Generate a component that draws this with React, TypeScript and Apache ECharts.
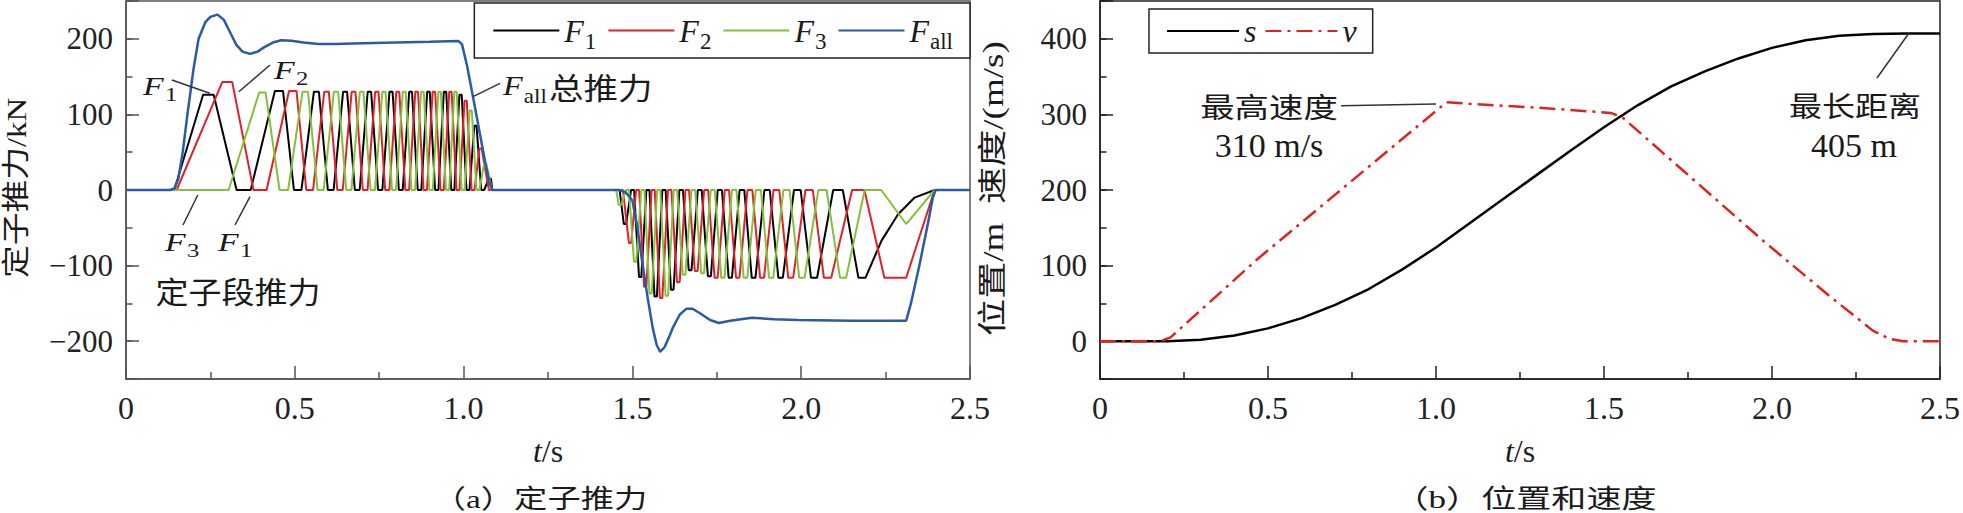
import React, { useEffect, useRef } from "react";
import * as echarts from "echarts";

const SERIF = "'Times New Roman', 'Liberation Serif', 'Noto Sans CJK SC', serif";
const CJK = "'Noto Sans CJK SC', 'Noto Sans', sans-serif";

// axes
const X_MIN = 0;
const X_MAX = 2.5;
const X_STEP = 0.5;
const F_MIN = -250;
const F_MAX = 250;
const S_MIN = -50;
const S_MAX = 450;
const MINOR_STEP = 50;

const NAMES_A = ["F1", "F2", "F3", "Fall"];
const NAMES_B = ["s", "v"];
const COLORS_A = ["#000000", "#e0202a", "#84c13a", "#2a5aa8"];
const COLOR_S = "#000000";
const COLOR_V = "#e3211c";

// total thrust Fall [t (s), F (kN)]
const FALL: number[][] = [
  [0, 0], [0.13, 0], [0.143, 2], [0.155, 15], [0.168, 50], [0.182, 100], [0.2, 160], [0.215, 200],
  [0.235, 222], [0.25, 229], [0.271, 232], [0.29, 225], [0.31, 207], [0.327, 192], [0.345, 183],
  [0.367, 180], [0.39, 183], [0.41, 189], [0.435, 195], [0.46, 198], [0.49, 197.5], [0.526, 195],
  [0.57, 193], [0.62, 193], [0.7, 194], [0.8, 195], [0.9, 196], [0.985, 197], [0.995, 193],
  [1.01, 165], [1.03, 118], [1.05, 70], [1.066, 32], [1.077, 9], [1.085, 0], [1.461, 0],
  [1.48, -3], [1.5, -14], [1.515, -50], [1.53, -98], [1.545, -142], [1.56, -182], [1.572, -205],
  [1.582, -214], [1.595, -208], [1.61, -193], [1.62, -182], [1.64, -165], [1.66, -157], [1.678, -157],
  [1.7, -163], [1.73, -172], [1.756, -176], [1.79, -173], [1.854, -169], [1.92, -171], [1.992, -172],
  [2.15, -173], [2.311, -173], [2.325, -150], [2.35, -100], [2.375, -45], [2.39, -10], [2.398, 0], [2.5, 0],
];

// stator-segment thrust: peak times (s) and peak values (kN), acceleration part
const F1_ACC_START = 0.143;
const F1_ACC_PEAKS = [0.244, 0.453, 0.564, 0.649, 0.721, 0.785, 0.843, 0.896, 0.945, 0.991, 1.035, 1.078];
const F1_ACC_AMPS = [126, 131, 130, 130, 130, 130, 130, 130, 130, 126, 85, 15];
const F1_ACC_TAIL = [[1.085, 0]];
const F2_ACC_START = 0.15;
const F2_ACC_PEAKS = [0.3, 0.494, 0.594, 0.674, 0.743, 0.805, 0.861, 0.912, 0.961, 1.006, 1.05];
const F2_ACC_AMPS = [143, 131, 130, 130, 130, 130, 130, 130, 130, 118, 55];
const F2_ACC_TAIL = [[1.075, 0]];
const F3_ACC_START = 0.304;
const F3_ACC_PEAKS = [0.404, 0.531, 0.622, 0.698, 0.764, 0.824, 0.878, 0.929, 0.976, 1.021, 1.064];
const F3_ACC_AMPS = [129, 130, 130, 130, 130, 130, 130, 130, 130, 105, 35];
const F3_ACC_TAIL = [[1.084, 0]];

// braking part: trough times (s) and trough values (kN)
const F1_DEC_START = 1.462;
const F1_DEC_PEAKS = [1.478, 1.523, 1.569, 1.618, 1.671, 1.728, 1.79, 1.859, 1.939, 2.038, 2.18];
const F1_DEC_AMPS = [-45, -115, -141, -132, -106, -114, -116, -116, -116, -116, -116];
const F1_DEC_TAIL = [[2.238, -67], [2.287, -32], [2.336, -10], [2.395, 0]];
const F2_DEC_START = 1.472;
const F2_DEC_PEAKS = [1.493, 1.538, 1.585, 1.636, 1.689, 1.748, 1.812, 1.884, 1.969, 2.078, 2.26];
const F2_DEC_AMPS = [-70, -128, -143, -122, -107, -116, -116, -116, -116, -116, -116];
const F2_DEC_TAIL = [[2.311, -116], [2.395, 0]];
const F3_DEC_START = 1.452;
const F3_DEC_PEAKS = [1.463, 1.508, 1.554, 1.602, 1.653, 1.708, 1.768, 1.835, 1.911, 2.002, 2.124];
const F3_DEC_AMPS = [-20, -95, -137, -140, -112, -110, -116, -116, -116, -116, -116];
const F3_DEC_TAIL = [[2.188, 0], [2.237, 0], [2.311, -45], [2.395, 0]];

// position s (m) and speed v (m/s)
const S_POS: number[][] = [
  [0, 0], [0.2, 0], [0.3, 1.9], [0.4, 7.6], [0.5, 17], [0.6, 30.5], [0.7, 48], [0.8, 69], [0.9, 95],
  [1.0, 124], [1.1, 156], [1.2, 188], [1.3, 220], [1.4, 252], [1.5, 283], [1.6, 312], [1.7, 337],
  [1.8, 357], [1.9, 374], [2.0, 388], [2.1, 398], [2.2, 404], [2.3, 406.5], [2.4, 407], [2.5, 407],
];
const V_SPD: number[][] = [
  [0, 0], [0.18, 0], [0.21, 5], [0.467, 108], [1.031, 316], [1.1, 314], [1.3, 309], [1.52, 302],
  [1.555, 296], [1.976, 132], [2.176, 58], [2.3, 14], [2.35, 3], [2.39, 0], [2.5, 0],
];

// plateau-shaped phase wave through the read peak times
function phaseWave(start: number, peaks: number[], amps: number[], tail: number[][]): number[][] {
  const pts: number[][] = [[start, 0]];
  const n = peaks.length;
  for (let i = 0; i < n; i++) {
    const p = peaks[i];
    const tn = i < n - 1 ? peaks[i + 1] - p : p - peaks[i - 1];
    const tp = i > 0 ? p - peaks[i - 1] : tn;
    const h = (0.075 * (tp + tn)) / 2;
    pts.push([p - h, amps[i]], [p + h, amps[i]]);
    if (i < n - 1) {
      const m = (p + peaks[i + 1]) / 2;
      const hb = 0.1 * tn;
      pts.push([m - hb, 0], [m + hb, 0]);
    }
  }
  return pts.concat(tail);
}

const F1_DATA = [[0, 0], ...phaseWave(F1_ACC_START, F1_ACC_PEAKS, F1_ACC_AMPS, F1_ACC_TAIL),
  ...phaseWave(F1_DEC_START, F1_DEC_PEAKS, F1_DEC_AMPS, F1_DEC_TAIL), [2.5, 0]];
const F2_DATA = [[0, 0], ...phaseWave(F2_ACC_START, F2_ACC_PEAKS, F2_ACC_AMPS, F2_ACC_TAIL),
  ...phaseWave(F2_DEC_START, F2_DEC_PEAKS, F2_DEC_AMPS, F2_DEC_TAIL), [2.5, 0]];
const F3_DATA = [[0, 0], ...phaseWave(F3_ACC_START, F3_ACC_PEAKS, F3_ACC_AMPS, F3_ACC_TAIL),
  ...phaseWave(F3_DEC_START, F3_DEC_PEAKS, F3_DEC_AMPS, F3_DEC_TAIL), [2.5, 0]];

const TXT = "#1a1a1a";

const F_RICH = (size: number) => ({
  f: { fontFamily: SERIF, fontStyle: "italic", fontSize: size, fill: TXT, color: TXT },
  s: {
    fontFamily: SERIF,
    fontSize: Math.round(size * 0.72),
    fill: TXT,
    color: TXT,
    lineHeight: Math.round(size * 0.4),
    padding: [Math.round(size * 0.7), 2, 0, 1],
  },
  c: { fontFamily: CJK, fontSize: 30, fill: TXT, color: TXT },
  l: { fontFamily: SERIF, fontSize: size, fill: TXT, color: TXT },
  i: { fontFamily: SERIF, fontStyle: "italic", fontSize: size, fill: TXT, color: TXT },
});

function txt(x: number, y: number, text: string, o: any = {}) {
  const align = o.align || "center";
  return {
    type: "text",
    x,
    y,
    scaleX: o.scaleX || 1,
    rotation: o.rotation || 0,
    silent: true,
    z: 100,
    style: {
      text,
      fontSize: o.size || 28,
      fontFamily: o.family || SERIF,
      fill: TXT,
      align,
      verticalAlign: "middle",
      textAlign: align,
      textVerticalAlign: "middle",
      rich: o.rich,
    },
  };
}

function seg(x1: number, y1: number, x2: number, y2: number) {
  return {
    type: "line",
    silent: true,
    z: 100,
    shape: { x1, y1, x2, y2 },
    style: { stroke: "#333", lineWidth: 1.5 },
  };
}

function xAxisOf(gi: number, col: string) {
  return {
    type: "value",
    gridIndex: gi,
    min: X_MIN,
    max: X_MAX,
    interval: X_STEP,
    position: "bottom",
    axisLine: { onZero: false, lineStyle: { color: col, width: 1.5 } },
    axisTick: { inside: true, length: 13, lineStyle: { color: col, width: 1.5 } },
    minorTick: { show: true, splitNumber: 2, length: 7, lineStyle: { color: col, width: 1.5 } },
    splitLine: { show: false },
    minorSplitLine: { show: false },
    axisLabel: {
      margin: 13,
      fontFamily: SERIF,
      fontSize: 32,
      color: "#222",
      formatter: (v: number) => (v === 0 ? "0" : v.toFixed(1)),
    },
    name: "{i|t}/s",
    nameLocation: "middle",
    nameGap: 56,
    nameTextStyle: { fontFamily: SERIF, fontSize: 32, color: "#222", rich: F_RICH(32) },
  };
}

function yMinorOf(gi: number, min: number, max: number, col: string) {
  return {
    type: "value",
    gridIndex: gi,
    min,
    max,
    interval: MINOR_STEP,
    position: "left",
    axisLine: { show: true, onZero: false, lineStyle: { color: col, width: 1.5 } },
    axisTick: { inside: true, length: 6.5, lineStyle: { color: col, width: 1.5 } },
    axisLabel: { show: false },
    splitLine: { show: false },
  };
}

function yMajorOf(gi: number, min: number, max: number, col: string, size: number) {
  return {
    type: "value",
    gridIndex: gi,
    min,
    max,
    splitNumber: 5,
    position: "left",
    axisLine: { show: false, onZero: false },
    axisTick: { inside: true, length: 13, lineStyle: { color: col, width: 1.5 } },
    axisLabel: {
      margin: 13,
      fontFamily: SERIF,
      fontSize: size,
      color: "#222",
      formatter: (v: number) => (v === min || v === max ? "" : v < 0 ? "\u2212" + -v : String(v)),
    },
    splitLine: { show: false },
  };
}

const legendName = (n: string) => {
  if (n === "Fall") return "{f|F}{s|all}";
  if (n.length === 2) return "{f|F}{s|" + n[1] + "}";
  return "{i|" + n + "}";
};

function buildOption() {
  const lineSeries = (name: string, data: number[][], color: string, gi: number, yi: number, width: number, type: any = "solid") => ({
    name,
    type: "line",
    xAxisIndex: gi,
    yAxisIndex: yi,
    data,
    symbol: "none",
    showSymbol: false,
    color,
    lineStyle: { color, width, type },
    itemStyle: { color },
    emphasis: { disabled: true },
  });

  return {
    animation: false,
    backgroundColor: "#ffffff",
    grid: [
      { left: 126, top: 1, width: 844, height: 378, show: true, borderColor: "#555", borderWidth: 1.5 },
      { left: 1100, top: 1, width: 845, height: 378, show: true, borderColor: "#222", borderWidth: 1.5 },
    ],
    xAxis: [xAxisOf(0, "#555"), xAxisOf(1, "#222")],
    yAxis: [
      yMinorOf(0, F_MIN, F_MAX, "#555"),
      yMajorOf(0, F_MIN, F_MAX, "#555", 31),
      yMinorOf(1, S_MIN, S_MAX, "#222"),
      yMajorOf(1, S_MIN, S_MAX, "#222", 31),
    ],
    legend: [
      {
        data: NAMES_A,
        right: 993,
        top: 3,
        itemWidth: 66,
        itemHeight: 14,
        itemGap: 9,
        padding: [5, 15, 5, 18],
        borderColor: "#222",
        borderWidth: 1.5,
        borderRadius: 0,
        backgroundColor: "#fff",
        selectedMode: false,
        itemStyle: { opacity: 0 },
        formatter: legendName,
        textStyle: { fontFamily: SERIF, fontSize: 32, color: TXT, rich: F_RICH(32) },
      },
      {
        data: NAMES_B,
        left: 1149,
        top: 9,
        itemWidth: 72,
        itemHeight: 14,
        itemGap: 8,
        padding: [6, 16, 6, 17],
        borderColor: "#222",
        borderWidth: 1.5,
        borderRadius: 0,
        backgroundColor: "#fff",
        selectedMode: false,
        itemStyle: { opacity: 0 },
        formatter: legendName,
        textStyle: { fontFamily: SERIF, fontSize: 32, color: TXT, rich: F_RICH(32) },
      },
    ],
    graphic: {
      elements: [
        // left chart annotations
        txt(143, 86, "{f|F}{s|1}", { align: "left", size: 26, rich: F_RICH(26), scaleX: 1.3 }),
        seg(171.9, 80, 209.8, 93.3),
        txt(274, 70, "{f|F}{s|2}", { align: "left", size: 26, rich: F_RICH(26), scaleX: 1.3 }),
        seg(270, 65, 238.8, 91.7),
        txt(165, 242, "{f|F}{s|3}", { align: "left", size: 26, rich: F_RICH(26), scaleX: 1.3 }),
        seg(183, 225, 197.8, 195),
        txt(218, 242, "{f|F}{s|1}", { align: "left", size: 26, rich: F_RICH(26), scaleX: 1.3 }),
        seg(235, 225, 250, 196.7),
        txt(238, 290, "定子段推力", { family: CJK, size: 30, scaleX: 1.1 }),
        txt(503, 86, "{f|F}{s|all}{c|总推力}", { align: "left", size: 28, rich: F_RICH(28), scaleX: 1.15 }),
        seg(500, 83.3, 473, 96.7),
        // right chart annotations
        txt(1269, 106, "最高速度", { family: CJK, size: 28, scaleX: 1.23 }),
        txt(1269, 145, "310 m/s", { size: 34 }),
        seg(1341, 105.7, 1436, 104),
        txt(1855, 105, "最长距离", { family: CJK, size: 28, scaleX: 1.18 }),
        txt(1854, 145, "405 m", { size: 34 }),
        seg(1877, 78, 1909, 33),
        // axis titles
        txt(17, 188, "定子推力/kN", { rotation: Math.PI / 2, size: 28, scaleX: 1.17 }),
        txt(993, 188.5, "位置/m  速度/(m/s)", { rotation: Math.PI / 2, size: 29, scaleX: 1.28 }),
        // captions
        txt(540, 499, "（a）定子推力", { size: 26, scaleX: 1.28 }),
        txt(1525, 499, "（b）位置和速度", { size: 26, scaleX: 1.35 }),
      ],
    },
    series: [
      lineSeries("F1", F1_DATA, COLORS_A[0], 0, 0, 2),
      lineSeries("F2", F2_DATA, COLORS_A[1], 0, 0, 2),
      lineSeries("F3", F3_DATA, COLORS_A[2], 0, 0, 2),
      lineSeries("Fall", FALL, COLORS_A[3], 0, 0, 2.5),
      lineSeries("s", S_POS, COLOR_S, 1, 2, 2.5),
      lineSeries("v", V_SPD, COLOR_V, 1, 2, 2.5, [16, 6, 3, 6]),
    ],
  };
}

export default function App() {
  const ref = useRef<HTMLDivElement>(null);
  useEffect(() => {
    if (!ref.current) return;
    const chart = echarts.init(ref.current, null, { renderer: "svg" });
    chart.setOption(buildOption() as any);
    return () => chart.dispose();
  }, []);
  return (
    <div
      ref={ref}
      style={{ position: "absolute", left: 0, top: 0, width: 1963, height: 513, background: "#fff" }}
    />
  );
}
